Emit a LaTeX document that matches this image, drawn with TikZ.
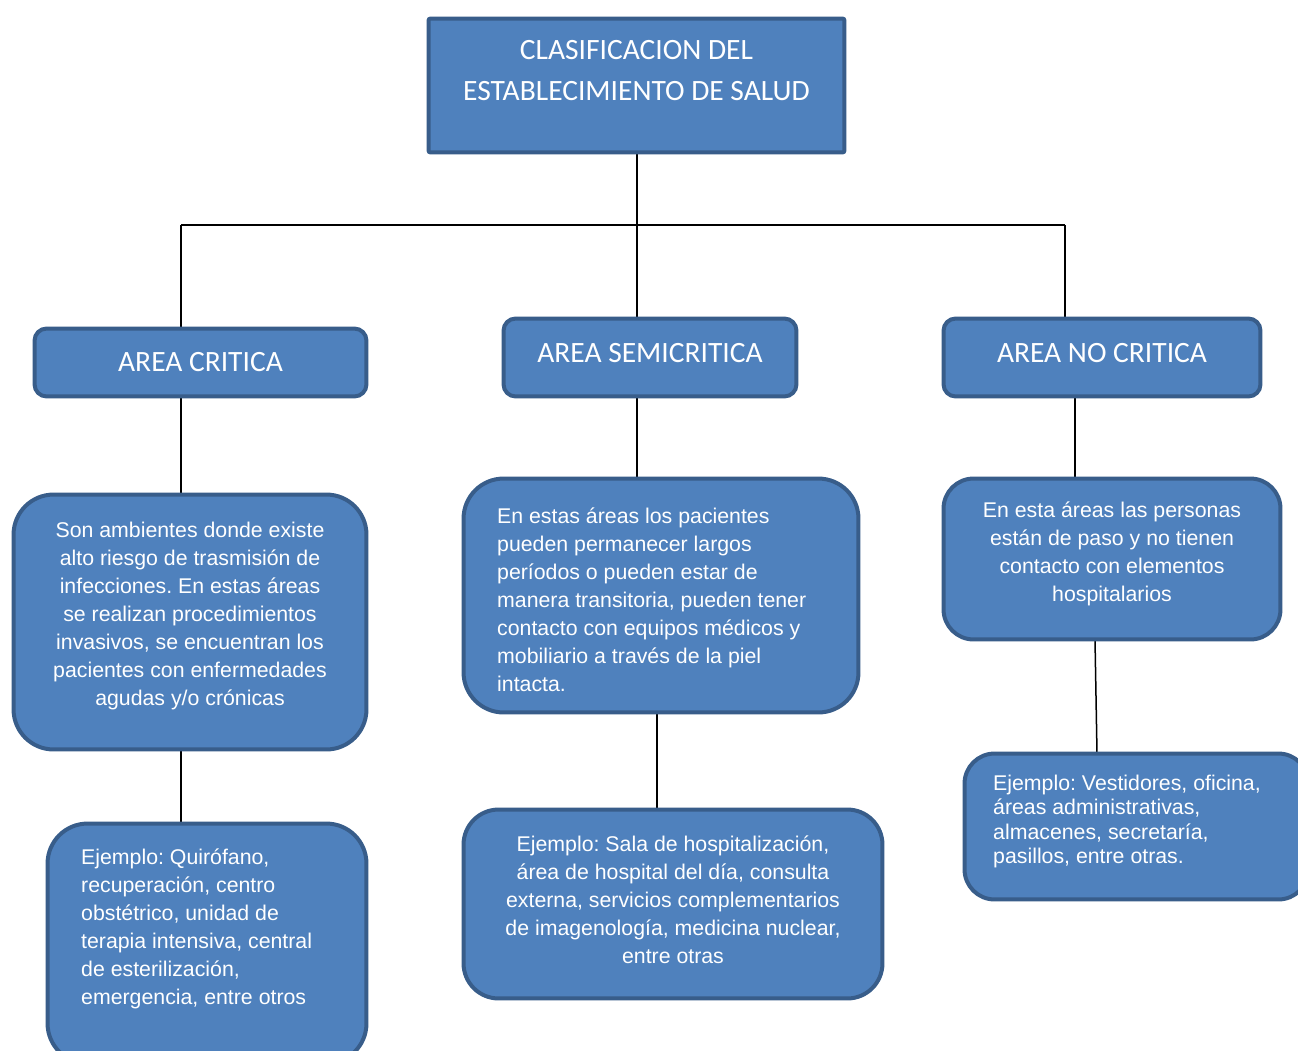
\documentclass[tikz,border=0pt]{standalone}
\usepackage{fontspec}
\setmainfont{Liberation Sans}
\newfontfamily\calfont{Carlito}
\definecolor{boxc}{HTML}{4F81BD}
\definecolor{bordc}{HTML}{385D8A}
\frenchspacing
\begin{document}
\begin{tikzpicture}[x=1pt,y=-1pt,
  box/.style={draw=bordc, fill=boxc, line width=4pt, inner sep=0pt},
  conn/.style={draw=black, line width=1.5pt},
  head/.style={text=white, font=\calfont\fontsize{29.5}{41}\selectfont, align=center, inner sep=0pt},
  body/.style={text=white, font=\fontsize{21.3}{28}\selectfont, inner sep=0pt},
  bodyc/.style={body, align=center},
  bodyl/.style={body, align=left, anchor=west}]
\clip (0,0) rectangle (1298,1050);
\fill[white] (0,0) rectangle (1298,1050);
% boxes as shapes (drawn after connectors)
\path
  node[minimum width=415.5pt, minimum height=133.5pt] (top) at (636.5,85.5) {}
  node[minimum width=331.5pt, minimum height=67.5pt] (c1) at (200.5,362.5) {}
  node[minimum width=292.5pt, minimum height=77.5pt] (c2) at (650,357.5) {}
  node[minimum width=316.5pt, minimum height=77.5pt] (c3) at (1102,357.5) {}
  node[minimum width=352.5pt, minimum height=254.5pt] (d1) at (190,622) {}
  node[minimum width=394.5pt, minimum height=233.5pt] (d2) at (661,595.5) {}
  node[minimum width=336.5pt, minimum height=160.5pt] (d3) at (1112,559) {}
  node[minimum width=318.5pt, minimum height=239.5pt] (e1) at (207,943.5) {}
  node[minimum width=418.5pt, minimum height=188.5pt] (e2) at (673,904) {}
  node[minimum width=343.5pt, minimum height=145.5pt] (e3) at (1136.5,826.5) {};
\coordinate (j) at (637,225);
\coordinate (j1) at (181,225);
\coordinate (j3) at (1065,225);
\coordinate (k2) at (657,0);
\coordinate (k3) at (1075,0);
\coordinate (k4) at (1095,0);
\coordinate (k5) at (1097,0);
% connectors
\draw[conn] (top.south -| j) -- (c2.north -| j);
\draw[conn] (j1) -- (j3);
\draw[conn] (j1) -- (c1.north -| j1);
\draw[conn] (j3) -- (c3.north -| j3);
\draw[conn] (c1.south -| j1) -- (d1.north -| j1);
\draw[conn] (c2.south -| j) -- (d2.north -| j);
\draw[conn] (c3.south -| k3) -- (d3.north -| k3);
\draw[conn] (d1.south -| j1) -- (e1.north -| j1);
\draw[conn] (d2.south -| k2) -- (e2.north -| k2);
\draw[conn] (d3.south -| k4) -- (e3.north -| k5);
% box outlines
\draw[box, rounded corners=2pt] (top.north west) rectangle (top.south east);
\draw[box, rounded corners=12pt] (c1.north west) rectangle (c1.south east);
\draw[box, rounded corners=12pt] (c2.north west) rectangle (c2.south east);
\draw[box, rounded corners=12pt] (c3.north west) rectangle (c3.south east);
\draw[box, rounded corners=40pt] (d1.north west) rectangle (d1.south east);
\draw[box, rounded corners=40pt] (d2.north west) rectangle (d2.south east);
\draw[box, rounded corners=30pt] (d3.north west) rectangle (d3.south east);
\draw[box, rounded corners=40pt] (e1.north west) rectangle (e1.south east);
\draw[box, rounded corners=35pt] (e2.north west) rectangle (e2.south east);
\draw[box, rounded corners=30pt] (e3.north west) rectangle (e3.south east);
% texts
\node[head] (ttop) at (636.5,70.5) {CLASIFICACION DEL\\ESTABLECIMIENTO DE SALUD};
\node[head] (tc1) at (200.5,362) {AREA CRITICA};
\node[head] (tc2) at (650,353) {AREA SEMICRITICA};
\node[head] (tc3) at (1102,353) {AREA NO CRITICA};
\node[bodyc] (td1) at (190,616) {Son ambientes donde existe\\alto riesgo de trasmisión de\\infecciones. En estas áreas\\se realizan procedimientos\\invasivos, se encuentran los\\pacientes con enfermedades\\agudas y/o crónicas};
\node[bodyl] (td2) at (497,599.5) {En estas áreas los pacientes\\pueden permanecer largos\\períodos o pueden estar de\\manera transitoria, pueden tener\\contacto con equipos médicos y\\mobiliario a través de la piel\\intacta.};
\node[bodyc] (td3) at (1112,553.5) {En esta áreas las personas\\están de paso y no tienen\\contacto con elementos\\hospitalarios};
\node[bodyl] (te1) at (81,929) {Ejemplo: Quirófano,\\recuperación, centro\\obstétrico, unidad de\\terapia intensiva, central\\de esterilización,\\emergencia, entre otros};
\node[bodyc] (te2) at (673,899.5) {Ejemplo: Sala de hospitalización,\\área de hospital del día, consulta\\externa, servicios complementarios\\de imagenología, medicina nuclear,\\entre otras};
\node[bodyl, font=\fontsize{21.3}{24.3}\selectfont] (te3) at (993,821.5) {Ejemplo: Vestidores, oficina,\\áreas administrativas,\\almacenes, secretaría,\\pasillos, entre otras.};
\end{tikzpicture}
\end{document}
